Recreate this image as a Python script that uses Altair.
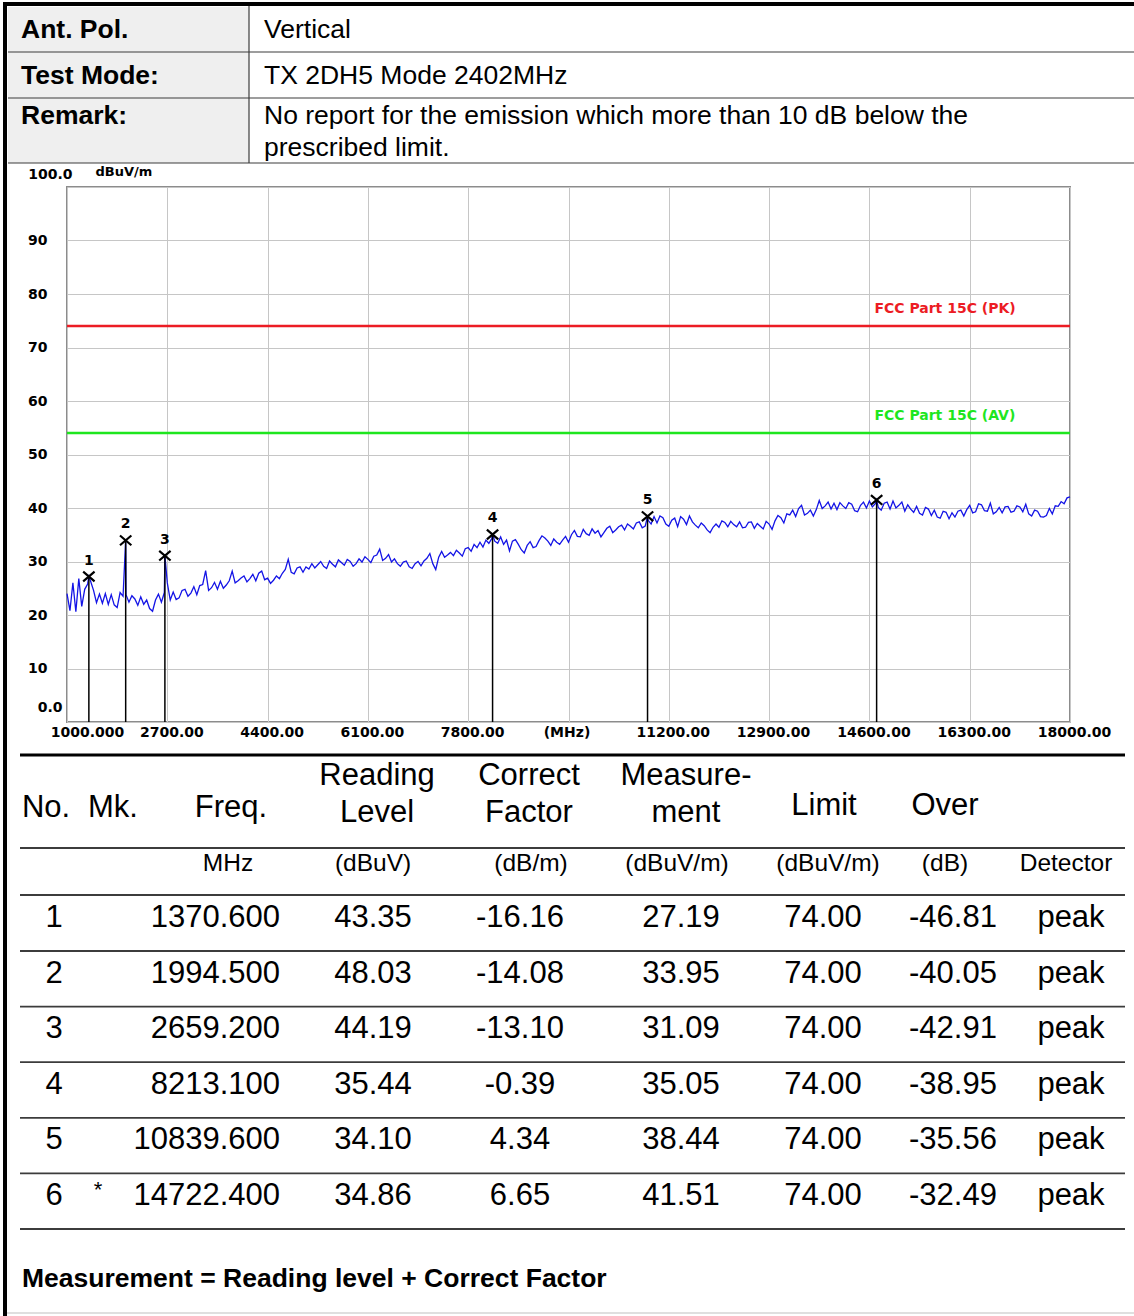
import altair as alt
import pandas as pd

# ---------------- header block ----------------
HEADER_KEYS = ["Ant. Pol.", "Test Mode:", "Remark:"]
HEADER_VALUES = [
    "Vertical",
    "TX 2DH5 Mode 2402MHz",
    "No report for the emission which more than 10 dB below the\nprescribed limit.",
]

# ---------------- limit lines ----------------
LIMIT_NAMES = ["FCC Part 15C (PK)", "FCC Part 15C (AV)"]
LIMIT_LEVELS = [74.0, 54.0]

# ---------------- marker table ----------------
MARK_NO = [1, 2, 3, 4, 5, 6]
MARK_MK = ["", "", "", "", "", "*"]
MARK_FREQ = [1370.600, 1994.500, 2659.200, 8213.100, 10839.600, 14722.400]
READING = [43.35, 48.03, 44.19, 35.44, 34.10, 34.86]
CORRECT = [-16.16, -14.08, -13.10, -0.39, 4.34, 6.65]
MEASURE = [27.19, 33.95, 31.09, 35.05, 38.44, 41.51]
LIMIT = [74.00, 74.00, 74.00, 74.00, 74.00, 74.00]
OVER = [-46.81, -40.05, -42.91, -38.95, -35.56, -32.49]
DETECTOR = ["peak", "peak", "peak", "peak", "peak", "peak"]

COLUMN_TITLES = ["No.", "Mk.", "Freq.", "Reading\nLevel", "Correct\nFactor",
                 "Measure-\nment", "Limit", "Over"]
COLUMN_UNITS = ["MHz", "(dBuV)", "(dB/m)", "(dBuV/m)", "(dBuV/m)", "(dB)", "Detector"]
FOOTNOTE = "Measurement = Reading level + Correct Factor"

# ---------------- axes ----------------
FREQ_TICKS = [1000, 2700, 4400, 6100, 7800, 9500, 11200, 12900, 14600, 16300, 18000]
LEVEL_TICKS = [0, 10, 20, 30, 40, 50, 60, 70, 80, 90, 100]

# ---------------- analyser sweep (dBuV/m), 50 MHz bins, one row per GHz ----------------
SWEEP_START_MHZ = 1000
SWEEP_STEP_MHZ = 50
TRACE_BANDS = [
    [24.0, 20.8, 26.0, 20.6, 26.8, 21.6, 24.8, 25.8, 26.3, 24.6, 22.3, 23.9, 22.2, 24.0, 22.0, 23.8, 21.9, 21.4, 24.2, 23.5],
    [23.8, 22.4, 23.6, 23.0, 21.8, 23.4, 22.0, 22.8, 21.2, 20.7, 22.8, 23.9, 22.4, 24.2, 26.0, 22.8, 24.3, 22.9, 23.2, 24.6],
    [24.8, 23.5, 24.1, 25.3, 23.8, 25.5, 25.7, 28.3, 24.6, 25.1, 26.1, 24.8, 26.3, 25.0, 25.6, 26.4, 28.2, 26.0, 26.4, 26.9],
    [27.3, 26.2, 26.8, 27.6, 26.4, 27.8, 28.2, 26.6, 26.9, 25.9, 26.5, 27.3, 26.8, 27.8, 28.5, 30.4, 28.0, 27.7, 28.8, 29.0],
    [28.0, 29.0, 28.6, 29.6, 28.8, 29.4, 30.0, 29.1, 28.7, 30.1, 29.5, 29.0, 30.3, 29.8, 29.3, 30.4, 30.0, 29.1, 29.6, 30.5],
    [29.9, 30.9, 30.4, 29.8, 31.0, 31.2, 32.3, 30.2, 30.6, 31.3, 29.9, 30.5, 29.6, 29.1, 29.9, 30.1, 29.0, 28.7, 29.6, 30.0],
    [29.2, 30.1, 30.6, 31.5, 29.6, 28.5, 30.8, 31.9, 30.8, 31.2, 31.7, 31.1, 32.1, 31.6, 31.0, 32.4, 32.6, 31.9, 33.2, 32.6],
    [33.6, 32.7, 34.0, 33.4, 34.3, 33.8, 33.4, 34.6, 33.2, 34.0, 32.0, 33.8, 34.1, 33.2, 32.2, 31.6, 33.0, 33.7, 32.6, 32.8],
    [33.9, 34.8, 34.4, 33.8, 33.0, 34.2, 33.6, 33.2, 34.0, 34.7, 33.6, 35.0, 35.8, 34.7, 34.6, 36.0, 35.2, 34.9, 36.1, 35.3],
    [35.8, 34.6, 35.4, 36.2, 36.6, 35.4, 35.9, 36.5, 36.8, 35.9, 37.0, 36.6, 36.1, 37.2, 37.4, 36.3, 36.6, 37.7, 37.0, 38.4],
    [37.2, 38.5, 38.2, 37.0, 36.6, 37.7, 38.1, 36.5, 38.4, 37.9, 36.9, 38.5, 37.4, 36.8, 36.3, 37.2, 36.7, 35.9, 35.4, 36.4],
    [37.0, 36.4, 37.6, 37.3, 36.5, 37.5, 36.9, 36.5, 37.4, 36.3, 36.4, 37.3, 37.4, 36.2, 37.1, 36.6, 36.1, 37.5, 37.0, 36.0],
    [37.6, 38.6, 38.2, 37.2, 38.9, 38.7, 39.6, 38.4, 39.9, 40.5, 38.7, 39.0, 39.6, 38.5, 39.7, 41.4, 39.9, 40.4, 41.1, 39.8],
    [40.9, 39.7, 41.0, 40.4, 39.9, 41.0, 40.7, 39.5, 39.3, 40.5, 41.1, 40.0, 41.3, 40.2, 40.8, 40.1, 39.6, 40.9, 41.1, 39.8],
    [41.3, 40.0, 40.5, 41.1, 39.4, 40.6, 39.8, 39.2, 40.3, 39.0, 38.7, 40.1, 39.8, 38.6, 39.6, 38.3, 38.1, 39.4, 39.2, 38.0],
    [39.1, 38.3, 39.4, 39.6, 38.5, 39.7, 40.5, 39.1, 39.3, 40.8, 40.6, 39.5, 39.4, 40.9, 38.9, 39.3, 40.1, 39.1, 40.2, 40.3],
    [39.2, 39.4, 40.4, 40.2, 39.3, 40.7, 38.9, 38.5, 39.6, 39.4, 38.4, 38.3, 38.6, 39.9, 38.9, 40.4, 40.3, 41.2, 40.8, 41.9],
    [42.1],
]

# ---------------- page layout (pixels) ----------------
W, H = 1134, 1316
PLOT_LEFT, PLOT_TOP, PLOT_W, PLOT_H = 67, 187, 1003, 535

TABLE_FONT = "Liberation Sans"
CHART_FONT = "DejaVu Sans"
LINE_DARK = "#3c3c3c"
RED = "#ec1c24"
GREEN = "#1ee61e"
BLUE = "#1414e6"

PAGE_X = alt.Scale(domain=[0, W], range=[-PLOT_LEFT, W - PLOT_LEFT], nice=False, zero=False)
PAGE_Y = alt.Scale(domain=[0, H], range=[-PLOT_TOP, H - PLOT_TOP], nice=False, zero=False)


def page_text(rows, **mark):
    df = pd.DataFrame(rows, columns=["px", "py", "text"])
    return alt.Chart(df).mark_text(**mark).encode(
        x=alt.X("px:Q", scale=PAGE_X, axis=None),
        y=alt.Y("py:Q", scale=PAGE_Y, axis=None),
        text=alt.Text("text:N"),
    )


def page_hlines(rows, color, width):
    df = pd.DataFrame(rows, columns=["px", "px2", "py"])
    return alt.Chart(df).mark_rule(color=color, strokeWidth=width).encode(
        x=alt.X("px:Q", scale=PAGE_X, axis=None),
        x2="px2:Q",
        y=alt.Y("py:Q", scale=PAGE_Y, axis=None),
    )


def page_vlines(rows, color, width):
    df = pd.DataFrame(rows, columns=["px", "py", "py2"])
    return alt.Chart(df).mark_rule(color=color, strokeWidth=width).encode(
        x=alt.X("px:Q", scale=PAGE_X, axis=None),
        y=alt.Y("py:Q", scale=PAGE_Y, axis=None),
        y2="py2:Q",
    )


def page_rects(rows, color):
    df = pd.DataFrame(rows, columns=["px", "px2", "py", "py2"])
    return alt.Chart(df).mark_rect(color=color).encode(
        x=alt.X("px:Q", scale=PAGE_X, axis=None),
        x2="px2:Q",
        y=alt.Y("py:Q", scale=PAGE_Y, axis=None),
        y2="py2:Q",
    )


# header block layout (multi-line text is anchored on its first line)
HEAD_ROW_Y = [30, 76, 116]
HEAD_LINES_Y = [52, 98, 163]
HEAD_SPLIT_X = 249

header_bg = page_rects([(8, HEAD_SPLIT_X, 7, HEAD_LINES_Y[-1])], "#efefef")
header_lines = page_hlines([(8, W, y) for y in HEAD_LINES_Y], LINE_DARK, 1.2)
header_split = page_vlines([(HEAD_SPLIT_X, 6, HEAD_LINES_Y[-1])], LINE_DARK, 1.2)
header_keys = page_text(
    [(21, y, t) for y, t in zip(HEAD_ROW_Y, HEADER_KEYS)],
    align="left", baseline="middle", font=TABLE_FONT, fontSize=26.5,
    fontWeight="bold", color="black",
)
header_vals = page_text(
    [(264, y, t) for y, t in zip(HEAD_ROW_Y, HEADER_VALUES)],
    align="left", baseline="middle", font=TABLE_FONT, fontSize=26.5,
    color="black", lineBreak="\n", lineHeight=32,
)

# page frame
frame_top = page_hlines([(3, W, 4)], "black", 4)
frame_left = page_vlines([(5, 2, H)], "black", 4)
frame_bottom = page_hlines([(7, W, H - 3)], "#d4d4d4", 1.5)

# marker table layout
TABLE_LEFT, TABLE_RIGHT = 20, 1125
ROW_Y0, ROW_STEP = 918, 55.6
row_y = [ROW_Y0 + ROW_STEP * i for i in range(len(MARK_NO))]
TITLE_X = [46, 113, 231, 377, 529, 686, 824, 945]
TITLE_Y = [808, 808, 808, 776, 776, 776, 806, 806]
UNIT_X = [228, 373, 531, 677, 828, 945, 1066]
UNIT_Y = 864

table_top = page_hlines([(TABLE_LEFT, TABLE_RIGHT, 755)], "black", 3)
table_lines = page_hlines(
    [(TABLE_LEFT, TABLE_RIGHT, y) for y in [848, 895] + [y + 33 for y in row_y]],
    LINE_DARK, 1.8,
)
table_titles = page_text(
    [(x, y, t) for x, y, t in zip(TITLE_X, TITLE_Y, COLUMN_TITLES)],
    align="center", baseline="middle", font=TABLE_FONT, fontSize=31,
    color="black", lineBreak="\n", lineHeight=37,
)
table_units = page_text(
    [(x, UNIT_Y, t) for x, t in zip(UNIT_X, COLUMN_UNITS)],
    align="center", baseline="middle", font=TABLE_FONT, fontSize=24.5, color="black",
)

cell_rows = []
for i, y in enumerate(row_y):
    cell_rows += [
        (54, y, str(MARK_NO[i])),
        (373, y, f"{READING[i]:.2f}"),
        (520, y, f"{CORRECT[i]:.2f}"),
        (681, y, f"{MEASURE[i]:.2f}"),
        (823, y, f"{LIMIT[i]:.2f}"),
        (953, y, f"{OVER[i]:.2f}"),
        (1071, y, DETECTOR[i]),
    ]
table_cells = page_text(
    cell_rows, align="center", baseline="middle", font=TABLE_FONT, fontSize=31, color="black"
)
table_freq = page_text(
    [(280, y, f"{f:.3f}") for y, f in zip(row_y, MARK_FREQ)],
    align="right", baseline="middle", font=TABLE_FONT, fontSize=31, color="black",
)
table_mk = page_text(
    [(98, y - 6, m) for y, m in zip(row_y, MARK_MK) if m],
    align="center", baseline="middle", font=TABLE_FONT, fontSize=22, color="black",
)
footnote = page_text(
    [(22, 1279, FOOTNOTE)],
    align="left", baseline="middle", font=TABLE_FONT, fontSize=26.5,
    fontWeight="bold", color="black",
)

page = alt.layer(
    header_bg, header_lines, header_split, header_keys, header_vals,
    frame_top, frame_left, frame_bottom,
    table_top, table_lines, table_titles, table_units,
    table_cells, table_freq, table_mk, footnote,
)

# ---------------- spectrum plot ----------------
trace_freq, trace_level = [], []
for b, band in enumerate(TRACE_BANDS):
    for k, v in enumerate(band):
        trace_freq.append(SWEEP_START_MHZ + (b * 20 + k) * SWEEP_STEP_MHZ)
        trace_level.append(v)
# the marker readings sit on the sweep itself
trace = pd.DataFrame({"freq": trace_freq + MARK_FREQ, "level": trace_level + MEASURE})
trace = trace.sort_values("freq").reset_index(drop=True)

markers = pd.DataFrame({"freq": MARK_FREQ, "level": MEASURE,
                        "label": [str(n) for n in MARK_NO]})
limits = pd.DataFrame({"freq": [FREQ_TICKS[8]] * len(LIMIT_LEVELS),
                       "level": LIMIT_LEVELS, "name": LIMIT_NAMES})

x_axis = alt.Axis(
    values=FREQ_TICKS, grid=True, gridColor="#c6c6c6", gridWidth=1,
    ticks=False, domain=False, title=None,
    labelExpr="datum.value == 1000 ? '1000.000' : datum.value == 9500 ? '(MHz)' : format(datum.value, '.2f')",
    labelFont=CHART_FONT, labelFontWeight="bold", labelFontSize=14, labelColor="black",
    labelPadding=3, labelFlush=False, labelOverlap=False, labelBound=False,
    labelOffset={"condition": [{"test": "datum.value == 1000", "value": 20},
                               {"test": "datum.value == 9500", "value": -2}],
                 "value": 4},
)
y_axis = alt.Axis(
    values=LEVEL_TICKS, grid=True, gridColor="#c6c6c6", gridWidth=1,
    ticks=False, domain=False,
    labelExpr="datum.value == 0 ? '0.0' : datum.value == 100 ? '100.0' : datum.label",
    labelFont=CHART_FONT, labelFontWeight="bold", labelFontSize=14, labelColor="black",
    labelFlush=False, labelOverlap=False, labelBound=False,
    labelPadding={"condition": [{"test": "datum.value == 0", "value": 5},
                                {"test": "datum.value == 100", "value": -5}],
                  "value": 20},
    labelOffset={"condition": [{"test": "datum.value == 0", "value": -15},
                               {"test": "datum.value == 100", "value": -13}],
                 "value": 0},
    title="dBuV/m", titleAngle=0, titleX=28, titleY=-16, titleAlign="left",
    titleBaseline="middle", titleFont=CHART_FONT, titleFontSize=13,
    titleFontWeight="bold", titleColor="black",
)

x_enc = alt.X("freq:Q", scale=alt.Scale(domain=[1000, 18000], nice=False, zero=False), axis=x_axis)
y_enc = alt.Y("level:Q", scale=alt.Scale(domain=[0, 100], nice=False, zero=False), axis=y_axis)
limit_color = alt.Color("name:N", scale=alt.Scale(domain=LIMIT_NAMES, range=[RED, GREEN]), legend=None)

limit_rules = alt.Chart(limits).mark_rule(strokeWidth=2.5).encode(y=y_enc, color=limit_color)
limit_text = alt.Chart(limits).mark_text(
    align="left", baseline="middle", dx=5, dy=-17,
    font=CHART_FONT, fontSize=14, fontWeight="bold",
).encode(x=x_enc, y=y_enc, text="name:N", color=limit_color)

trace_line = alt.Chart(trace).mark_line(color=BLUE, strokeWidth=1.3).encode(x=x_enc, y=y_enc)

marker_rules = alt.Chart(markers).mark_rule(color="black", strokeWidth=1.5).encode(
    x=x_enc, y=y_enc, y2=alt.datum(0)
)
marker_x = alt.Chart(markers).mark_point(
    shape="M-1,-0.85L1,0.85M-1,0.85L1,-0.85", size=130, filled=False,
    stroke="black", strokeWidth=2.2, opacity=1,
).encode(x=x_enc, y=y_enc)
marker_num = alt.Chart(markers).mark_text(
    align="center", baseline="middle", dy=-16,
    font=CHART_FONT, fontSize=14, fontWeight="bold", color="black",
).encode(x=x_enc, y=y_enc, text="label:N")

spectrum = alt.layer(limit_rules, limit_text, trace_line, marker_rules, marker_x, marker_num)

chart = (
    alt.layer(page, spectrum)
    .resolve_scale(x="independent", y="independent", color="independent")
    .properties(
        width=PLOT_W, height=PLOT_H,
        autosize=alt.AutoSizeParams(type="none"),
        padding={"left": PLOT_LEFT, "top": PLOT_TOP,
                 "right": W - PLOT_LEFT - PLOT_W, "bottom": H - PLOT_TOP - PLOT_H},
        background="white",
    )
    .configure_view(stroke="#8c8c8c", strokeWidth=2)
)

chart.save("out.html", embed_options={"renderer": "svg", "actions": False})
